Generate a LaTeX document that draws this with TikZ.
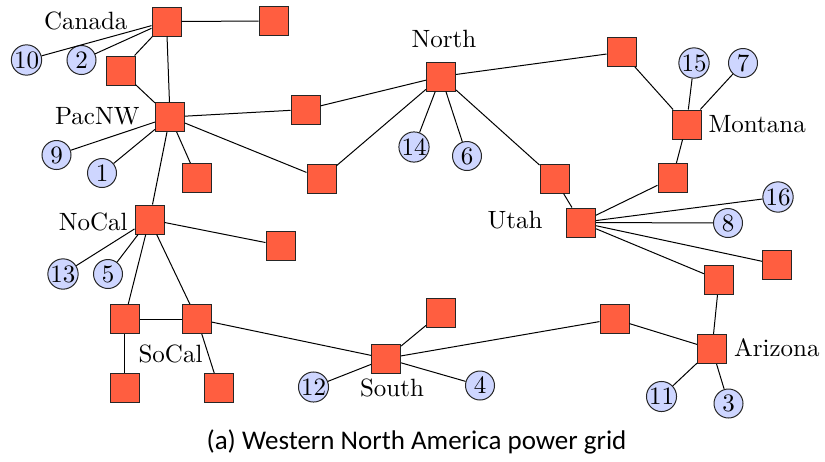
\documentclass[tikz,border=0pt]{standalone}
\usepackage{fontspec}
\newfontfamily\capfont{Carlito}
\definecolor{busred}{RGB}{255,94,64}
\definecolor{genblue}{RGB}{206,214,255}
\begin{document}
\begin{tikzpicture}[x=0.4pt,y=-0.4pt,
  bus/.style={draw=black!85,fill=busred,minimum size=11.6pt,inner sep=0pt},
  gen/.style={circle,draw=black!85,fill=genblue,minimum size=11.6pt,inner sep=0pt,font=\normalsize},
  region/.style={inner sep=0pt,font=\normalsize},
  link/.style={draw=black,line width=0.4pt}]
\useasboundingbox (0,0) rectangle (825,461);
% substations
\node[bus] (ca)   at (166.5,21.5) {};
\node[bus] (caE)  at (273.5,21) {};
\node[bus] (caS)  at (120.5,70.5) {};
\node[bus] (pn)   at (170,117) {};
\node[bus] (pnA)  at (305.5,109.5) {};
\node[bus] (pnB)  at (197,178) {};
\node[bus] (pnC)  at (321.5,178.5) {};
\node[bus] (nc)   at (149.5,219.5) {};
\node[bus] (ncE)  at (280.5,245.5) {};
\node[bus] (scL)  at (124.5,319) {};
\node[bus] (scR)  at (197,319) {};
\node[bus] (scLL) at (124.5,387.5) {};
\node[bus] (scRR) at (219,388) {};
\node[bus] (no)   at (441,76.5) {};
\node[bus] (noU)  at (554.5,178.5) {};
\node[bus] (tr)   at (621.5,52) {};
\node[bus] (mt)   at (686.5,124.5) {};
\node[bus] (mtS)  at (672.5,178) {};
\node[bus] (ut)   at (581,222.5) {};
\node[bus] (utR)  at (777,264.5) {};
\node[bus] (utL)  at (719,280) {};
\node[bus] (az)   at (712,349) {};
\node[bus] (azW)  at (614.5,319) {};
\node[bus] (so)   at (386,358.5) {};
\node[bus] (soN)  at (441,313) {};
% generators
\node[gen] (g10) at (26.5,60) {10};
\node[gen] (g2)  at (81.5,60) {2};
\node[gen] (g9)  at (56.5,155) {9};
\node[gen] (g1)  at (102,173) {1};
\node[gen] (g13) at (63,274) {13};
\node[gen] (g5)  at (108,274) {5};
\node[gen] (g14) at (414,147) {14};
\node[gen] (g6)  at (467,156) {6};
\node[gen] (g15) at (694,63) {15};
\node[gen] (g7)  at (743,63) {7};
\node[gen] (g16) at (778,197) {16};
\node[gen] (g8)  at (728,223) {8};
\node[gen] (g12) at (313.5,387) {12};
\node[gen] (g4)  at (480,385.5) {4};
\node[gen] (g11) at (661.5,396.5) {11};
\node[gen] (g3)  at (728.5,403.5) {3};
% region names
\node[region,anchor=east] (lCanada) at (128,21) {Canada};
\node[region,anchor=east] (lPacNW) at (140,116.5) {PacNW};
\node[region,anchor=east] (lNoCal) at (128,221.5) {NoCal};
\node[region] (lSoCal) at (170.5,353.5) {SoCal};
\node[region] (lNorth) at (444,38.5) {North};
\node[region,anchor=west] (lMontana) at (708,124.5) {Montana};
\node[region,anchor=east] (lUtah) at (543,220) {Utah};
\node[region,anchor=west] (lArizona) at (733.5,348) {Arizona};
\node[region] (lSouth) at (392,387.5) {South};
% transmission lines
\draw[link] (ca) -- (caE);
\draw[link] (ca) -- (g10);
\draw[link] (ca) -- (g2);
\draw[link] (ca) -- (caS);
\draw[link] (ca) -- (pn);
\draw[link] (caS) -- (pn);
\draw[link] (pn) -- (pnA);
\draw[link] (pn) -- (g9);
\draw[link] (pn) -- (g1);
\draw[link] (pn) -- (pnB);
\draw[link] (pn) -- (pnC);
\draw[link] (pn) -- (nc);
\draw[link] (pnA) -- (no);
\draw[link] (pnC) -- (no);
\draw[link] (no) -- (g14);
\draw[link] (no) -- (g6);
\draw[link] (no) -- (noU);
\draw[link] (no) -- (tr);
\draw[link] (tr) -- (mt);
\draw[link] (mt) -- (g15);
\draw[link] (mt) -- (g7);
\draw[link] (mt) -- (mtS);
\draw[link] (mtS) -- (ut);
\draw[link] (noU) -- (ut);
\draw[link] (ut) -- (g16);
\draw[link] (ut) -- (g8);
\draw[link] (ut) -- (utR);
\draw[link] (ut) -- (utL);
\draw[link] (utL) -- (az);
\draw[link] (az) -- (azW);
\draw[link] (az) -- (g11);
\draw[link] (az) -- (g3);
\draw[link] (azW) -- (so);
\draw[link] (so) -- (soN);
\draw[link] (so) -- (g12);
\draw[link] (so) -- (g4);
\draw[link] (so) -- (scR);
\draw[link] (scR) -- (scL);
\draw[link] (scR) -- (scRR);
\draw[link] (scL) -- (scLL);
\draw[link] (nc) -- (scL);
\draw[link] (nc) -- (scR);
\draw[link] (nc) -- (g13);
\draw[link] (nc) -- (g5);
\draw[link] (nc) -- (ncE);
% caption
\node[inner sep=0pt,anchor=base,font=\capfont\fontsize{10.8pt}{13pt}\selectfont] (caption) at (416.5,449) {(a) Western North America power grid};
\end{tikzpicture}
\end{document}
